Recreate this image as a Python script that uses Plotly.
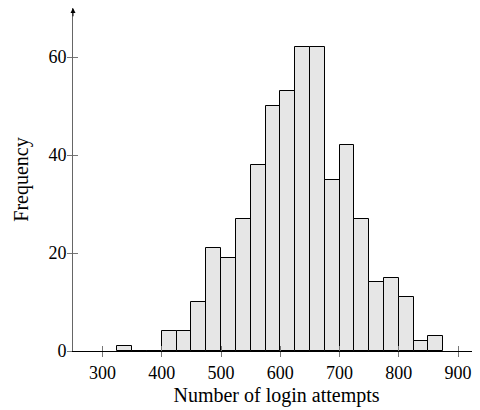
import plotly.graph_objects as go

bin_starts = [325, 350, 375, 400, 425, 450, 475, 500, 525, 550, 575, 600,
              625, 650, 675, 700, 725, 750, 775, 800, 825, 850]
counts = [1, 0, 0, 4, 4, 10, 21, 19, 27, 38, 50, 53,
          62, 62, 35, 42, 27, 14, 15, 11, 2, 3]
bin_width = 25
x_ticks = [300, 400, 500, 600, 700, 800, 900]
y_ticks = [0, 20, 40, 60]

FONT = "Liberation Serif"
x_range = [250, 937]
y_range = [0, 70]

fig = go.Figure()
fig.add_trace(go.Bar(
    x=bin_starts, y=counts, width=bin_width, offset=0,
    marker=dict(color="#e6e6e6", line=dict(color="black", width=1)),
    showlegend=False, hoverinfo="skip",
))
# dummy trace to activate overlay axes (for crossing ticks)
fig.add_trace(go.Scatter(x=[None], y=[None], xaxis="x2", yaxis="y2",
                         showlegend=False, hoverinfo="skip"))

fig.update_layout(
    width=472, height=402,
    margin=dict(l=65, r=0, t=0, b=59, autoexpand=False),
    paper_bgcolor="white", plot_bgcolor="white",
    font=dict(family=FONT, size=17, color="black"),
    bargap=0,
    xaxis=dict(
        range=x_range, tickvals=x_ticks, ticks="outside", ticklen=5,
        tickcolor="#777777", tickwidth=1, showgrid=False, zeroline=False,
        showline=True, linecolor="black", linewidth=1,
        title=dict(text="Number of login attempts", standoff=6),
        tickfont=dict(family=FONT, size=18),
        ticklabelstandoff=0, automargin=False,
    ),
    yaxis=dict(
        range=y_range, tickvals=y_ticks, ticks="outside", ticklen=5,
        tickcolor="#777777", tickwidth=1, showgrid=False, zeroline=False,
        showline=True, linecolor="#666666", linewidth=1,
        title=dict(text="Frequency", standoff=14),
        tickfont=dict(family=FONT, size=18),
        ticklabelstandoff=-3, automargin=False,
    ),
    xaxis2=dict(
        range=x_range, tickvals=x_ticks, ticks="inside", ticklen=5,
        tickcolor="#777777", showticklabels=False, showgrid=False,
        zeroline=False, overlaying="x", matches="x",
    ),
    yaxis2=dict(
        range=y_range, tickvals=y_ticks, ticks="inside", ticklen=5,
        tickcolor="#777777", showticklabels=False, showgrid=False,
        zeroline=False, overlaying="y", matches="y",
    ),
    annotations=[
        dict(x=x_range[0], y=y_range[1], ax=x_range[0], ay=y_range[1] - 2,
             xref="x", yref="y", axref="x", ayref="y", text="",
             showarrow=True, arrowhead=2, arrowsize=1, arrowwidth=1,
             arrowcolor="black"),
    ],
)

fig.write_html("out.html")
